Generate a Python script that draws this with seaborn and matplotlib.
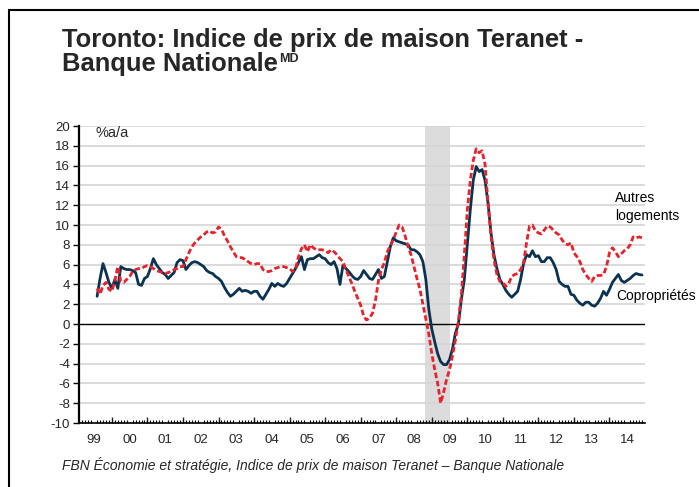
import numpy as np
import pandas as pd
import matplotlib
matplotlib.use("Agg")
import matplotlib.pyplot as plt
import seaborn as sns
from matplotlib.lines import Line2D
import matplotlib.transforms as mtransforms

# ---------------- data (y/y % change, monthly, from Aug 1999) ----------------
start_month = "1999-08"
condo = [
    # 1999 Aug-Dec
    2.8, 4.6, 6.1, 5.2, 4.2,
    # 2000
    3.6, 4.5, 3.6, 5.8, 5.6, 5.5, 5.5, 5.4, 5.2, 4.0, 3.9, 4.6,
    # 2001
    4.8, 5.6, 6.6, 6.0, 5.6, 5.2, 5.0, 4.6, 4.9, 5.2, 6.2, 6.5,
    # 2002
    6.4, 5.5, 5.9, 6.2, 6.3, 6.2, 6.0, 5.8, 5.4, 5.2, 5.1, 4.8,
    # 2003
    4.6, 4.3, 3.7, 3.2, 2.8, 3.0, 3.3, 3.6, 3.3, 3.4, 3.3, 3.1,
    # 2004
    3.3, 3.3, 2.8, 2.5, 3.0, 3.5, 4.1, 3.8, 4.1, 3.9, 3.8, 4.1,
    # 2005
    4.6, 5.1, 5.6, 6.2, 6.8, 5.5, 6.5, 6.6, 6.6, 6.8, 7.0, 6.7,
    # 2006
    6.6, 6.2, 6.0, 6.3, 5.6, 4.0, 5.9, 5.6, 5.3, 4.9, 4.6, 4.5,
    # 2007
    4.8, 5.4, 5.0, 4.6, 4.5, 5.0, 5.5, 4.6, 4.8, 6.3, 7.8, 8.7,
    # 2008
    8.4, 8.3, 8.2, 8.1, 8.0, 7.5, 7.5, 7.3, 7.0, 6.3, 4.5, 1.5,
    # 2009
    -0.5, -1.8, -3.0, -3.8, -4.1, -4.1, -3.6, -2.5, -0.9, 0.0, 2.5, 4.5,
    # 2010
    8.0, 11.5, 14.5, 15.9, 15.4, 15.6, 14.5, 12.2, 9.2, 7.0, 5.6, 4.5,
    # 2011
    4.0, 3.4, 3.0, 2.7, 3.0, 3.3, 4.5, 6.1, 7.0, 6.8, 7.4, 6.8,
    # 2012
    6.9, 6.3, 6.3, 6.7, 6.7, 6.2, 5.5, 4.3, 4.0, 3.8, 3.8, 3.0,
    # 2013
    2.9, 2.4, 2.1, 1.9, 2.2, 2.2, 1.9, 1.8, 2.1, 2.6, 3.3, 2.9,
    # 2014
    3.5, 4.2, 4.6, 5.0, 4.4, 4.2, 4.4, 4.6, 4.9, 5.1, 5.0, 4.95,
]
autres = [
    # 1999 Aug-Dec
    3.6, 3.0, 3.9, 4.2, 3.5,
    # 2000
    3.3, 4.4, 5.8, 4.3, 4.2, 4.5, 4.8, 5.3, 5.5, 5.6, 5.6, 5.8,
    # 2001
    5.9, 5.8, 5.6, 5.4, 5.3, 5.2, 5.1, 5.2, 5.3, 5.5, 5.6, 5.8,
    # 2002
    5.8, 6.5, 7.2, 7.8, 8.2, 8.5, 8.8, 9.0, 9.3, 9.4, 9.2, 9.3,
    # 2003
    9.8, 9.6, 8.9, 8.4, 7.8, 7.3, 6.8, 6.7, 6.7, 6.5, 6.3, 6.1,
    # 2004
    6.0, 6.1, 6.1, 5.5, 5.3, 5.3, 5.4, 5.6, 5.7, 5.8, 5.8, 5.7,
    # 2005
    5.6, 5.3, 5.6, 6.8, 7.6, 8.0, 7.3, 8.0, 7.7, 7.5, 7.5, 7.5,
    # 2006
    7.4, 7.2, 7.5, 7.3, 7.0, 6.6, 6.3, 5.5, 4.8, 4.1, 3.3, 2.6,
    # 2007
    1.9, 0.8, 0.4, 0.6, 1.1, 2.4, 4.4, 5.5, 6.2, 7.3, 7.9, 8.5,
    # 2008
    9.3, 10.0, 9.8, 8.9, 7.8, 7.0, 5.8, 4.6, 3.5, 2.0, 0.5, -1.0,
    # 2009
    -3.0, -4.6, -6.0, -8.0, -6.9, -5.6, -4.6, -3.2, -1.6, 0.3, 3.0, 7.0,
    # 2010
    11.5, 14.5, 16.5, 17.7, 17.3, 17.5, 16.1, 12.2, 8.9, 6.5, 5.0, 4.3,
    # 2011
    4.2, 3.8, 4.1, 4.8, 5.0, 5.1, 5.5, 6.2, 8.2, 9.9, 10.0, 9.4,
    # 2012
    9.2, 9.1, 9.5, 9.9, 9.8, 9.5, 9.2, 9.0, 8.5, 8.1, 8.0, 8.2,
    # 2013
    7.2, 6.8, 6.3, 5.5, 5.0, 4.6, 4.3, 4.8, 4.9, 4.9, 5.0, 5.8,
    # 2014
    7.2, 7.7, 7.3, 6.8, 7.1, 7.4, 7.6, 8.0, 8.8, 8.7, 8.8, 8.7,
]
series_labels = ["Copropriétés", "Autres\nlogements"]
year_labels = ["99", "00", "01", "02", "03", "04", "05", "06", "07",
               "08", "09", "10", "11", "12", "13", "14"]
first_year = 1999
ytick_values = list(range(-10, 21, 2))
recession = (2008.8, 2009.5)

title_line1 = "Toronto: Indice de prix de maison Teranet -"
title_line2 = "Banque Nationale"
title_sup = "MD"
unit_label = "%a/a"
source_text = "FBN Économie et stratégie, Indice de prix de maison Teranet – Banque Nationale"

# ---------------- frame ----------------
dates = pd.date_range(start_month, periods=len(condo), freq="MS")
t = dates.year + (dates.month - 1) / 12.0
df = pd.DataFrame({"t": t, "condo": condo, "autres": autres})

sns.set_style("white")
plt.rcParams["font.family"] = ["Liberation Sans", "DejaVu Sans"]

W, H = 699, 487
fig = plt.figure(figsize=(W / 100, H / 100), dpi=100)
ax = fig.add_axes([78.5 / W, 1 - 423 / H, (645 - 78.5) / W, (423 - 126) / H])

NAVY = "#0b3350"
RED = "#e8212b"

# recession band
ax.axvspan(recession[0], recession[1], color="#dcdcdc", zorder=0, lw=0)

# grid
for v in ytick_values:
    if v == 0:
        continue
    ax.axhline(v, color="#d4d4d4", lw=1.2, zorder=0.5)
ax.axhline(0, color="black", lw=1.0, zorder=1)

sns.lineplot(data=df, x="t", y="condo", ax=ax, color=NAVY, linewidth=2.0,
             zorder=3, estimator=None)
sns.lineplot(data=df, x="t", y="autres", ax=ax, color=RED, linewidth=2.0,
             zorder=4, estimator=None)
ax.lines[-1].set_dashes((2.0, 1.0))

ax.set_xlim(first_year + 0.06, first_year + 16.0)
ax.set_ylim(-10, 20)
ax.set_xlabel("")
ax.set_ylabel("")

# y ticks
ax.set_yticks(ytick_values)
ax.set_yticklabels([str(v) for v in ytick_values])
ax.tick_params(axis="y", which="major", direction="out", length=4, width=1,
               color="black", labelsize=9.5, pad=2, left=True)

# x ticks: labels mid-year, monthly minor ticks, yearly longer ticks
mids = [first_year + i + 0.5 for i in range(len(year_labels))]
ax.set_xticks(mids)
ax.set_xticklabels(year_labels)
ax.set_xticks([first_year + m / 12.0 for m in range(1, 16 * 12)], minor=True)
ax.tick_params(axis="x", which="major", length=0, labelsize=9.5, pad=8)
ax.tick_params(axis="x", which="minor", direction="in", length=2.5, width=0.8,
               color="black", bottom=True)
sec = ax.secondary_xaxis("bottom")
sec.set_xticks([first_year + i for i in range(1, 16)])
sec.tick_params(axis="x", direction="in", length=4.5, width=1, labelbottom=False)
for s in sec.spines.values():
    s.set_visible(False)

for side in ["top", "right"]:
    ax.spines[side].set_visible(False)
ax.spines["left"].set_color("black")
ax.spines["left"].set_linewidth(1.6)
ax.spines["bottom"].set_color("black")
ax.spines["bottom"].set_linewidth(1.2)

# unit label
ax.text(0.03, 19.3, unit_label, transform=mtransforms.blended_transform_factory(ax.transAxes, ax.transData),
        fontsize=10.5, va="center", ha="left")

# series annotations
ax.text(2014.16, 11.8, series_labels[1], fontsize=10, ha="left", va="center",
        linespacing=1.35, color="black")
ax.text(2014.2, 2.8, series_labels[0], fontsize=10, ha="left", va="center",
        color="black", clip_on=False)

# titles
t1 = fig.text(62 / W, 1 - 46.7 / H, title_line1, fontsize=18.4, weight="bold",
              ha="left", va="baseline")
t2 = fig.text(62 / W, 1 - 70.7 / H, title_line2, fontsize=18.4, weight="bold",
              ha="left", va="baseline")
fig.canvas.draw()
bb = t2.get_window_extent()
fig.text(bb.x1 / W + 1 / W, 1 - 53 / H, title_sup, fontsize=9, weight="bold",
         ha="left", va="top")

# source
fig.text(62 / W, 1 - 470 / H, source_text, fontsize=10, style="italic",
         ha="left", va="baseline")

# outer frame
fig.add_artist(Line2D([8.5 / W, 8.5 / W], [0, 1 - 10 / H], transform=fig.transFigure,
                      color="black", lw=1.5))
fig.add_artist(Line2D([8.5 / W, 1], [1 - 10 / H, 1 - 10 / H], transform=fig.transFigure,
                      color="black", lw=1.5))

fig.savefig("out.png", dpi=100)
